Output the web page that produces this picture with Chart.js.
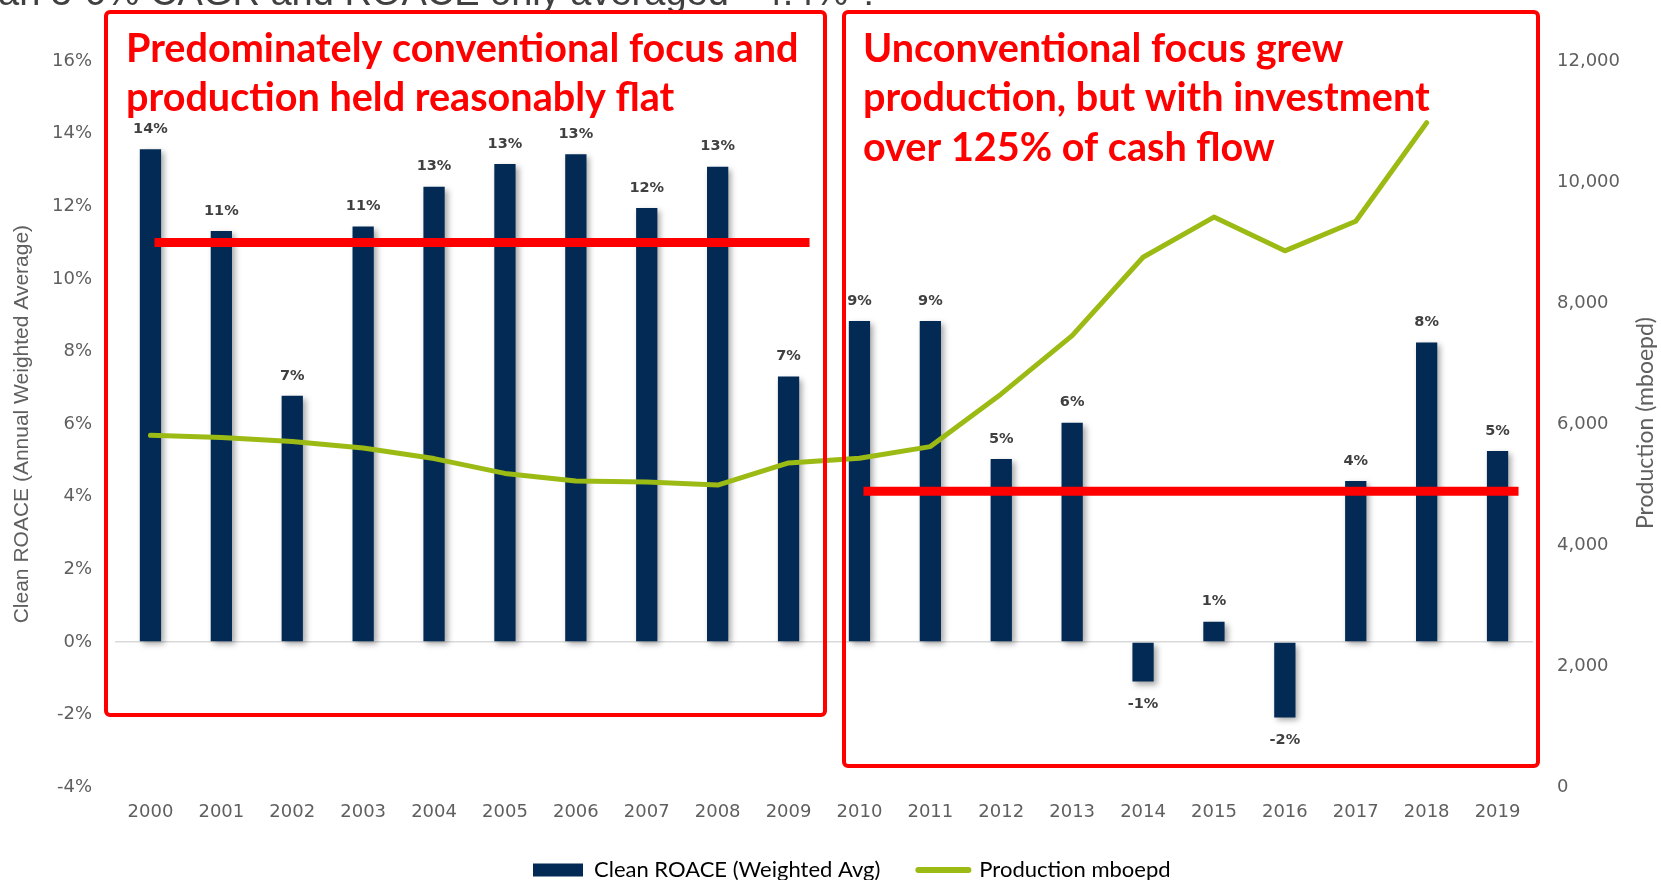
<!DOCTYPE html>
<html>
<head>
<meta charset="utf-8">
<script src="https://cdn.jsdelivr.net/npm/chart.js@4.4.1/dist/chart.umd.min.js"></script>
<style>
  html, body { margin: 0; padding: 0; background: #ffffff; }
  #wrap { width: 1661px; height: 880px; overflow: hidden; }
</style>
</head>
<body>
<div id="wrap"><canvas id="c" width="1661" height="880"></canvas></div>
<script>
// ---------------- data ----------------
const years = ['2000','2001','2002','2003','2004','2005','2006','2007','2008','2009',
               '2010','2011','2012','2013','2014','2015','2016','2017','2018','2019'];
const roace = [13.57, 11.32, 6.78, 11.44, 12.54, 13.16, 13.43, 11.95, 13.09, 7.31,
               8.84, 8.84, 5.04, 6.04, -1.09, 0.56, -2.08, 4.43, 8.25, 5.26];
const roaceLabels = ['14%','11%','7%','11%','13%','13%','13%','12%','13%','7%',
                     '9%','9%','5%','6%','-1%','1%','-2%','4%','8%','5%'];
const production = [5815, 5780, 5711, 5606, 5430, 5185, 5061, 5045, 4992, 5359,
                    5436, 5628, 6499, 7461, 8757, 9421, 8863, 9352, 10980, null];
const roaceTicks = [-4, -2, 0, 2, 4, 6, 8, 10, 12, 14, 16];
const productionTicks = [0, 2000, 4000, 6000, 8000, 10000, 12000];
const averageValues = [11, 4.15];
const averageRanges = [['2000', '2009'], ['2010', '2019']];
const noteLeft = ['Predominately conventional focus and', 'production held reasonably flat'];
const noteRight = ['Unconventional focus grew', 'production, but with investment', 'over 125% of cash flow'];
const headline = 'an 3-6% CAGR and ROACE only averaged ~4.4% ?';
const seriesNames = ['Clean ROACE (Weighted Avg)', 'Production mboepd'];
const axisTitles = ['Clean ROACE (Annual Weighted Average)', 'Production (mboepd)'];

// ---------------- styles ----------------
const NAVY = '#022A54';
const GREEN = '#9BBB14';
const RED = '#FF0000';
const GREY = '#5f5f5f';

const barShadow = {
  id: 'barShadow',
  beforeDatasetDraw(chart, args) {
    if (args.index !== 0) return;
    const c = chart.ctx;
    c.save();
    c.shadowColor = 'rgba(0,0,0,0.35)';
    c.shadowBlur = 6;
    c.shadowOffsetX = 3;
    c.shadowOffsetY = 3;
  },
  afterDatasetDraw(chart, args) {
    if (args.index !== 0) return;
    chart.ctx.restore();
  }
};

const legendPlace = {
  id: 'legendPlace',
  afterLayout(chart) {
    // let the x tick labels use the full space below the plot
    if (chart.scales.x) chart.scales.x.bottom = chart.height;
    const lg = chart.legend;
    if (!lg || !lg.lineWidths) return;
    const p = lg.options.labels.padding;
    const fs = lg.options.labels.font.size;
    const dy = 870 - (lg.top + p + fs / 2);
    lg.top += dy; lg.bottom += dy;
    const startX = (lg.left + p + lg.right - lg.lineWidths[0]) / 2;
    const dx = 533 - startX;
    lg.left += 2 * dx;
  }
};

const barLabels = {
  id: 'barLabels',
  afterDatasetsDraw(chart) {
    const c = chart.ctx;
    const meta = chart.getDatasetMeta(0);
    c.save();
    c.font = 'bold 14.5px "DejaVu Sans"';
    c.fillStyle = '#404040';
    c.textAlign = 'center';
    c.textBaseline = 'middle';
    meta.data.forEach((bar, i) => {
      const y = roace[i] >= 0 ? bar.y - 20 : bar.y + 23;
      c.fillText(roaceLabels[i], bar.x, y);
    });
    c.restore();
  }
};

const annotations = {
  id: 'annotations',
  afterDraw(chart) {
    const c = chart.ctx;
    const xs = chart.scales.x, ys = chart.scales.y;
    c.save();
    // clipped headline at very top
    c.font = '38px "Liberation Sans"';
    c.fillStyle = '#404040';
    c.textAlign = 'left';
    c.textBaseline = 'alphabetic';
    c.fillText(headline, -2, 5);

    // average lines
    c.strokeStyle = RED;
    c.lineWidth = 9;
    c.lineCap = 'butt';
    averageValues.forEach((v, i) => {
      const x0 = xs.getPixelForValue(years.indexOf(averageRanges[i][0])) + 4;
      const x1 = xs.getPixelForValue(years.indexOf(averageRanges[i][1])) + 21;
      const y = ys.getPixelForValue(v);
      c.beginPath(); c.moveTo(x0, y); c.lineTo(x1, y); c.stroke();
    });

    // boxes
    c.lineWidth = 4;
    c.beginPath(); c.roundRect(106, 12, 719, 703, 4); c.stroke();
    c.beginPath(); c.roundRect(844, 12, 694, 754, 4); c.stroke();

    // notes
    c.fillStyle = RED;
    c.font = 'bold 39.6px Lato';
    noteLeft.forEach((t, i) => c.fillText(t, 126, 61.5 + i * 49.5));
    noteRight.forEach((t, i) => c.fillText(t, 863, 61.5 + i * 49.5));

    // right axis title (reads bottom to top)
    c.translate(1646, 423);
    c.rotate(-Math.PI / 2);
    c.font = '23px Lato';
    c.fillStyle = GREY;
    c.textAlign = 'center';
    c.textBaseline = 'middle';
    c.fillText(axisTitles[1], 0, 0);
    c.restore();
  }
};

const chart = new Chart(document.getElementById('c'), {
  type: 'bar',
  data: {
    labels: years,
    datasets: [
      {
        type: 'bar', label: seriesNames[0], data: roace, backgroundColor: NAVY,
        barPercentage: 0.3, categoryPercentage: 1, yAxisID: 'y', order: 2
      },
      {
        type: 'line', label: seriesNames[1], data: production, borderColor: GREEN,
        backgroundColor: GREEN, borderWidth: 5, pointRadius: 0, tension: 0,
        borderCapStyle: 'round', borderJoinStyle: 'round', yAxisID: 'y1', order: 1
      }
    ]
  },
  options: {
    responsive: false,
    animation: false,
    devicePixelRatio: 1,
    layout: { padding: { top: 61, left: 0, right: 0, bottom: 0 } },
    plugins: {
      tooltip: { enabled: false },
      legend: {
        position: 'bottom',
        labels: {
          usePointStyle: true,
          pointStyleWidth: 50,
          boxHeight: 13,
          padding: 38,
          color: '#404040',
          font: { family: 'Lato', size: 22 },
          generateLabels: () => [
            { text: seriesNames[0], fillStyle: NAVY, strokeStyle: NAVY, lineWidth: 0,
              pointStyle: 'rect', datasetIndex: 0, hidden: false },
            { text: seriesNames[1], fillStyle: GREEN, strokeStyle: GREEN, lineWidth: 6,
              pointStyle: 'line', lineCap: 'round', datasetIndex: 1, hidden: false }
          ]
        }
      }
    },
    scales: {
      x: {
        grid: { display: false, drawTicks: false },
        border: { display: false },
        ticks: { color: GREY, font: { family: 'DejaVu Sans', size: 18 }, padding: 14, maxRotation: 0 },
        afterFit: (s) => { s.height = 880 - 787.2 - (s.chart.legend ? s.chart.legend.height : 0); }
      },
      y: {
        position: 'left',
        min: roaceTicks[0], max: roaceTicks[roaceTicks.length - 1],
        afterBuildTicks: (s) => { s.ticks = roaceTicks.map(v => ({ value: v })); },
        grid: {
          drawTicks: false,
          lineWidth: 1.5,
          color: (ctx) => (ctx.tick && ctx.tick.value === 0) ? '#D9D9D9' : 'rgba(0,0,0,0)'
        },
        border: { display: false },
        ticks: {
          color: GREY, font: { family: 'DejaVu Sans', size: 18 }, padding: 23,
          callback: (v) => v + '%'
        },
        title: {
          display: true, text: axisTitles[0], color: GREY,
          font: { family: 'Liberation Sans', size: 21 }, padding: { top: 10, bottom: 0 }
        },
        afterFit: (s) => { s.width = 115; }
      },
      y1: {
        position: 'right',
        min: productionTicks[0], max: productionTicks[productionTicks.length - 1],
        afterBuildTicks: (s) => { s.ticks = productionTicks.map(v => ({ value: v })); },
        grid: { display: false, drawTicks: false },
        border: { display: false },
        ticks: {
          color: GREY, font: { family: 'DejaVu Sans', size: 18 }, padding: 24,
          callback: (v) => Number(v).toLocaleString('en-US')
        },
        afterFit: (s) => { s.width = 128; }
      }
    }
  },
  plugins: [barShadow, legendPlace, barLabels, annotations]
});
</script>
</body>
</html>
